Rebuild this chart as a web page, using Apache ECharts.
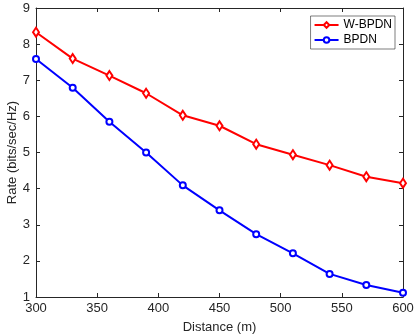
<!DOCTYPE html>
<html>
<head>
<meta charset="utf-8">
<script src="https://cdn.jsdelivr.net/npm/echarts@6/dist/echarts.min.js"></script>
<style>
  html, body { margin: 0; padding: 0; background: #fff; }
  #chart { width: 416px; height: 336px; }
</style>
</head>
<body>
<div id="chart"></div>
<script>
// distance (m)
const distances = [300, 330, 360, 390, 420, 450, 480, 510, 540, 570, 600];
// rate (bits/sec/Hz)
const wbpdnRates = [8.33, 7.60, 7.13, 6.64, 6.03, 5.74, 5.23, 4.94, 4.65, 4.33, 4.15];
const bpdnRates = [7.59, 6.79, 5.85, 5.00, 4.09, 3.40, 2.74, 2.21, 1.64, 1.33, 1.12];

const axisColor = '#262626';
const font = 'Liberation Sans, Arial, sans-serif';

const pairs = (ys) => distances.map((x, i) => [x, ys[i]]);

const chart = echarts.init(document.getElementById('chart'));

// 主轴 + 上/右辅助轴 (模拟 MATLAB 的 box on)
const xBase = {
  type: 'value', min: 300, max: 600, interval: 50,
  axisLine: { show: true, lineStyle: { color: axisColor, width: 1 } },
  axisTick: { show: true, inside: true, length: 4, lineStyle: { color: axisColor } },
  splitLine: { show: false },
};
const yBase = {
  type: 'value', min: 1, max: 9, interval: 1,
  axisLine: { show: true, lineStyle: { color: axisColor, width: 1 } },
  axisTick: { show: true, inside: true, length: 4, lineStyle: { color: axisColor } },
  splitLine: { show: false },
};

chart.setOption({
  animation: false,
  grid: { left: 36, right: 13, top: 8, bottom: 39, containLabel: false, outerBoundsMode: 'none' },
  xAxis: [
    Object.assign({}, xBase, {
      position: 'bottom',
      name: 'Distance (m)', nameLocation: 'middle', nameGap: 24,
      nameTextStyle: { color: axisColor, fontSize: 13, fontFamily: font },
      axisLabel: { color: axisColor, fontSize: 13, fontFamily: font, margin: 5 },
    }),
    Object.assign({}, xBase, { position: 'top', axisLabel: { show: false } }),
  ],
  yAxis: [
    Object.assign({}, yBase, {
      position: 'left',
      name: 'Rate (bits/sec/Hz)', nameLocation: 'middle', nameGap: 17,
      nameMoveOverlap: false,
      nameTextStyle: { color: axisColor, fontSize: 13, fontFamily: font },
      axisLabel: { color: axisColor, fontSize: 13, fontFamily: font, margin: 6 },
    }),
    Object.assign({}, yBase, { position: 'right', axisLabel: { show: false } }),
  ],
  legend: {
    right: 21, top: 16,
    orient: 'vertical',
    itemWidth: 24, itemHeight: 7, itemGap: 3,
    padding: [3, 3, 3, 3],
    backgroundColor: '#fff',
    borderColor: axisColor, borderWidth: 0.6,
    textStyle: { color: '#000', fontSize: 12, fontFamily: font },
    data: ['W-BPDN', 'BPDN'],
  },
  series: [
    {
      name: 'W-BPDN', type: 'line',
      data: pairs(wbpdnRates),
      symbol: 'emptyDiamond', symbolSize: [6, 9],
      color: '#ff0000',
      lineStyle: { color: '#ff0000', width: 2 },
      itemStyle: { color: '#ff0000', borderWidth: 2 },
    },
    {
      name: 'BPDN', type: 'line',
      data: pairs(bpdnRates),
      symbol: 'emptyCircle', symbolSize: 6,
      color: '#0000ff',
      lineStyle: { color: '#0000ff', width: 2 },
      itemStyle: { color: '#0000ff', borderWidth: 2 },
    },
  ],
});
</script>
</body>
</html>
